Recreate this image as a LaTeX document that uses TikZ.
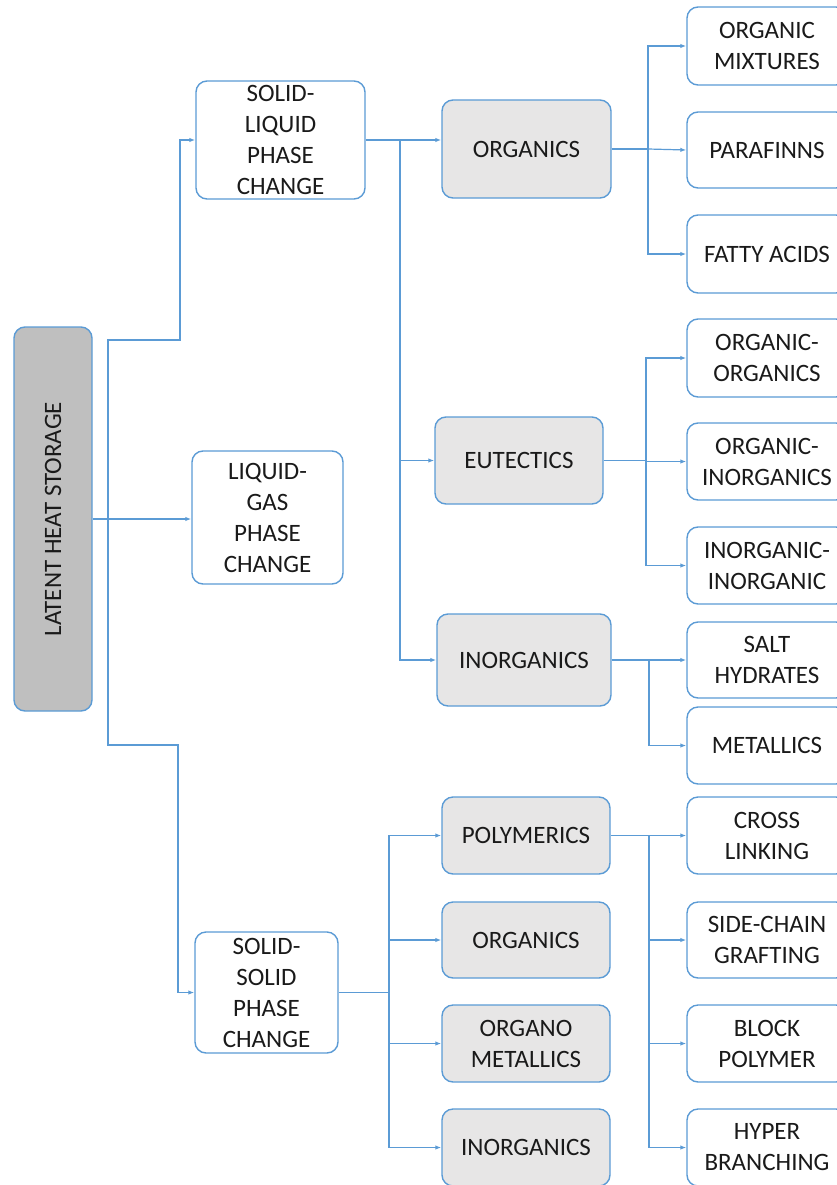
\documentclass[tikz,border=0pt]{standalone}
\usepackage{fontspec}
\setmainfont{Carlito}
\usetikzlibrary{arrows.meta}
\definecolor{bblue}{HTML}{5B9BD5}
\definecolor{dgray}{HTML}{BFBFBF}
\definecolor{lgray}{HTML}{E7E6E6}
\definecolor{txt}{HTML}{1A1A1A}
\tikzset{
  box/.style={draw=bblue, line width=1.4pt, rounded corners=11pt, fill=white,
    text=txt, align=center, inner sep=0pt,
    font=\fontsize{25}{31}\selectfont},
  gbox/.style={box, fill=lgray},
  dbox/.style={box, fill=dgray},
  conn/.style={draw=bblue, line width=1.2pt},
  arr/.style={conn, -{Latex[length=6pt,width=4.5pt]}}
}
\newcommand{\bx}[7]{%
  \node[#6, minimum width={(#4-#2)*1pt}, minimum height={(#5-#3)*1pt}]
    (#1) at ({(#2+#4)/2},{(#3+#5)/2}) {#7};}
\begin{document}
\begin{tikzpicture}[x=1pt,y=-1pt]
\useasboundingbox (0,0) rectangle (837,1185);
\clip (0,0) rectangle (837,1185);
% level 1
\bx{lhs}{14}{327}{92}{711}{dbox}{}
\node[rotate=90, text=txt, font=\fontsize{25}{31}\selectfont] (lhslabel) at (lhs.center) {LATENT HEAT STORAGE};
% level 2
\bx{slpc}{196}{81}{365}{199}{box}{SOLID-\\LIQUID\\PHASE\\CHANGE}
\bx{lgpc}{192}{451}{343}{584}{box}{LIQUID-\\GAS\\PHASE\\CHANGE}
\bx{sspc}{195}{932}{338}{1053}{box}{SOLID-\\SOLID\\PHASE\\CHANGE}
% level 3
\bx{org}{442}{100}{611}{198}{gbox}{ORGANICS}
\bx{eut}{435}{417}{603}{504}{gbox}{EUTECTICS}
\bx{inorg}{437}{614}{611}{706}{gbox}{INORGANICS}
\bx{poly}{442}{797}{610}{874}{gbox}{POLYMERICS}
\bx{orgb}{442}{902}{610}{978}{gbox}{ORGANICS}
\bx{orgmet}{442}{1005}{610}{1082}{gbox}{ORGANO\\METALLICS}
\bx{inorgb}{442}{1109}{610}{1186}{gbox}{INORGANICS}
% level 4
\bx{om}{687}{7}{847}{85}{box}{ORGANIC\\MIXTURES}
\bx{par}{687}{112}{847}{188}{box}{PARAFINNS}
\bx{fa}{687}{215}{847}{293}{box}{FATTY ACIDS}
\bx{oo}{687}{319}{847}{397}{box}{ORGANIC-\\ORGANICS}
\bx{oi}{687}{423}{847}{500}{box}{ORGANIC-\\INORGANICS}
\bx{ii}{687}{527}{847}{604}{box}{INORGANIC-\\INORGANIC}
\bx{sh}{687}{622}{847}{698}{box}{SALT\\HYDRATES}
\bx{met}{687}{707}{847}{784}{box}{METALLICS}
\bx{cl}{687}{797}{847}{874}{box}{CROSS\\LINKING}
\bx{sc}{687}{902}{847}{978}{box}{SIDE-CHAIN\\GRAFTING}
\bx{bp}{687}{1005}{847}{1082}{box}{BLOCK\\POLYMER}
\bx{hb}{687}{1109}{847}{1186}{box}{HYPER\\BRANCHING}
% junction coordinates
\coordinate (j1) at (108,518);
\coordinate (j1t) at (108,340);
\coordinate (j1b) at (108,745);
\coordinate (j1tt) at (180,340);
\coordinate (j1bb) at (178,745);
\coordinate (j2) at (400,140);
\coordinate (j3) at (648,149);
\coordinate (j4) at (646,460.5);
\coordinate (j5) at (649,660);
\coordinate (j6) at (389,992.5);
\coordinate (j7) at (649,835.5);
% connectors level 1
\draw[arr] (lhs.east) -- (lgpc.west |- lhs.east);
\draw[arr] (j1) -- (j1t) -- (j1tt) |- (slpc.west);
\draw[arr] (j1) -- (j1b) -- (j1bb) |- (sspc.west);
% solid-liquid
\draw[arr] (slpc.east) -- (org.west |- slpc.east);
\draw[arr, line width=1.6pt] (j2) |- (eut.west);
\draw[arr, line width=1.6pt] (j2) |- (inorg.west);
% organics
\draw[conn] (org.east) -- (j3);
\draw[arr] (j3) |- (om.west);
\draw[arr] (j3) -- (par.west);
\draw[arr] (j3) |- (fa.west);
% eutectics
\draw[conn] (eut.east) -- (j4);
\draw[arr] (j4) |- (oo.west);
\draw[arr] (j4) |- (oi.west);
\draw[arr] (j4) |- (ii.west);
% inorganics
\draw[conn] (inorg.east) -- (j5);
\draw[arr] (j5) |- (sh.west);
\draw[arr] (j5) |- (met.west);
% solid-solid
\draw[conn] (sspc.east) -- (j6);
\draw[arr] (j6) |- (poly.west);
\draw[arr] (j6) |- (orgb.west);
\draw[arr] (j6) |- (orgmet.west);
\draw[arr] (j6) |- (inorgb.west);
% polymerics
\draw[conn] (poly.east) -- (j7);
\draw[arr] (j7) |- (cl.west);
\draw[arr] (j7) |- (sc.west);
\draw[arr] (j7) |- (bp.west);
\draw[arr] (j7) |- (hb.west);
\end{tikzpicture}
\end{document}
